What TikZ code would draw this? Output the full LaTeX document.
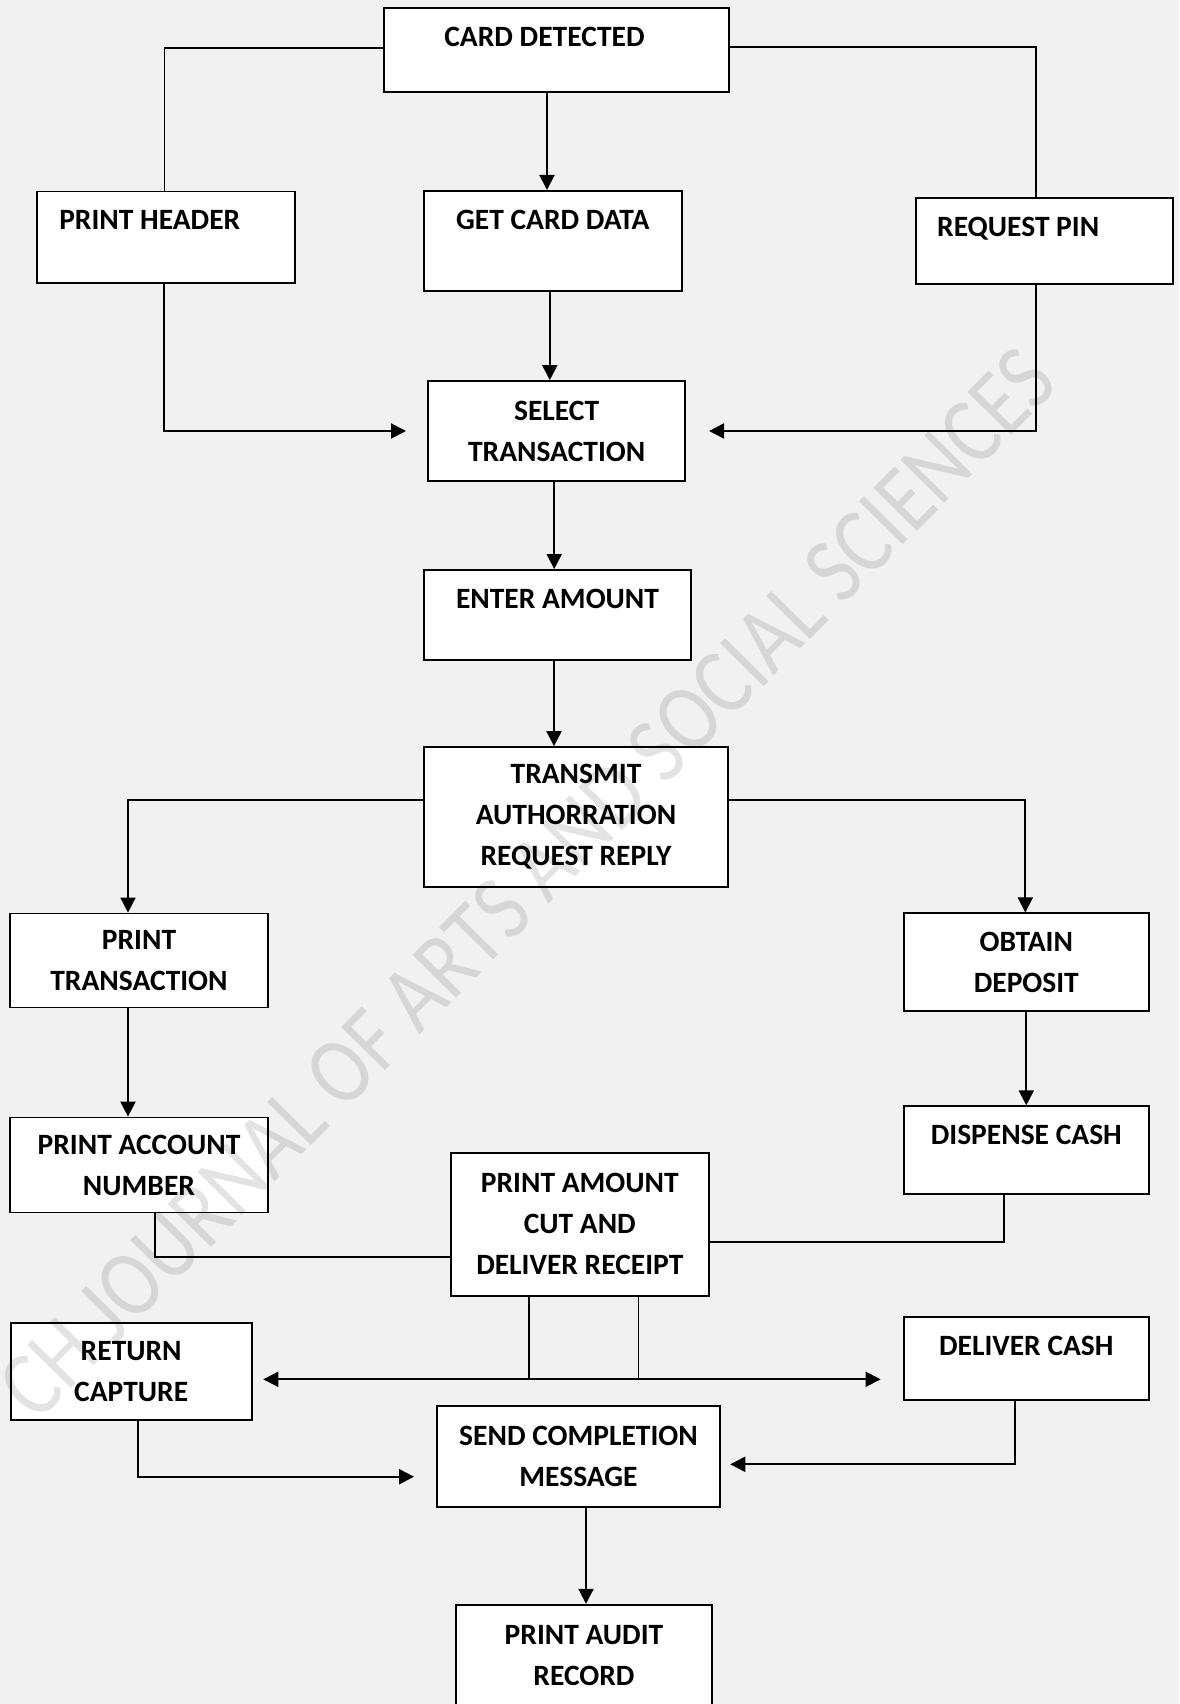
\documentclass[tikz,border=0pt]{standalone}
\usepackage{fontspec}
\setmainfont{Carlito}
\newfontfamily\wmfont{Carlito}
\usetikzlibrary{arrows.meta}
\definecolor{bgc}{HTML}{F1F1F1}
\tikzset{
 box/.style={draw=black, line width=1.8pt, fill=white, inner sep=0pt, font=\fontsize{29.5}{41}\selectfont\bfseries},
 topbox/.style={box, anchor=north},
 midbox/.style={box, align=center},
 ln/.style={line width=1.5pt},
 arr/.style={line width=2pt, -{Triangle[length=15pt,width=15pt]}},
 dbl/.style={line width=2pt, {Triangle[length=15pt,width=15pt]}-{Triangle[length=15pt,width=15pt]}},
}
\begin{document}
\begin{tikzpicture}[x=1pt,y=-1pt]
\useasboundingbox (0,0) rectangle (1179,1704);
\clip (0,0) rectangle (1179,1704);
\fill[bgc] (0,0) rectangle (1179,1704);

\node[topbox, minimum width=345pt, text height=38.4pt, text depth=45.6pt] (card) at (556.5,7.3) {CARD DETECTED\hspace*{24pt}};
\node[topbox, minimum width=258pt, text height=38.3pt, text depth=53pt] (header) at (166.3,190.7) {\makebox[214pt][l]{PRINT HEADER}};
\node[topbox, minimum width=257.7pt, text height=39pt, text depth=61pt] (getcard) at (552.8,190) {GET CARD DATA};
\node[topbox, minimum width=257.6pt, text height=39pt, text depth=46.7pt] (reqpin) at (1044.5,197) {\makebox[214.6pt][l]{REQUEST PIN}};
\node[midbox, minimum width=257pt, minimum height=100pt] (select) at (556.7,431) {SELECT\\TRANSACTION};
\node[topbox, minimum width=267pt, text height=38.3pt, text depth=51.7pt] (enter) at (557.5,569) {ENTER AMOUNT};
\node[midbox, minimum width=304pt, minimum height=140pt] (transmit) at (576,817) {TRANSMIT\\AUTHORRATION\\REQUEST REPLY};
\node[midbox, minimum width=258pt, minimum height=94pt] (printtrans) at (139,960.5) {PRINT\\TRANSACTION};
\node[midbox, minimum width=245.3pt, minimum height=97.4pt] (obtain) at (1026.3,962) {OBTAIN\\DEPOSIT};
\node[midbox, minimum width=258pt, minimum height=95pt] (printacct) at (139,1165) {PRINT ACCOUNT\\NUMBER};
\node[topbox, minimum width=245.3pt, text height=38.7pt, text depth=49.3pt] (dispense) at (1026.3,1105.3) {DISPENSE CASH};
\node[midbox, minimum width=257.7pt, minimum height=143pt] (printamt) at (579.8,1224.2) {PRINT AMOUNT\\CUT AND\\DELIVER RECEIPT};
\node[midbox, minimum width=241pt, minimum height=96.7pt] (returncap) at (131.2,1371.7) {RETURN\\CAPTURE};
\node[topbox, minimum width=245.3pt, text height=39pt, text depth=44pt] (delivercash) at (1026.3,1316) {DELIVER CASH};
\node[midbox, minimum width=282.5pt, minimum height=101pt] (sendcomp) at (578.5,1456.5) {SEND COMPLETION\\MESSAGE};
\node[midbox, minimum width=256.6pt, minimum height=101pt] (printaudit) at (584,1655.2) {PRINT AUDIT\\RECORD};

\draw[ln] ([yshift=2.3pt]card.west) -| ([xshift=-2pt]header.north);
\draw[ln] ([yshift=3.3pt]card.east) -| ([xshift=-8.5pt]reqpin.north);
\draw[arr] ([xshift=-9.5pt]card.south) -- ([xshift=-9.5pt]card.south |- getcard.north);
\draw[arr] ([xshift=-3pt]getcard.south) -- ([xshift=-3pt]getcard.south |- select.north);
\draw[arr, shorten >=21.3pt] ([xshift=-2pt]header.south) |- (select.west);
\draw[arr, shorten >=23pt] ([xshift=-8.5pt]reqpin.south) |- (select.east);
\draw[arr] ([xshift=-2.5pt]select.south) -- ([xshift=-2.5pt]select.south |- enter.north);
\draw[arr] ([xshift=-3.5pt]enter.south) -- ([xshift=-3.5pt]enter.south |- transmit.north);
\draw[arr] ([yshift=17.3pt]transmit.west) -| ([xshift=-11pt]printtrans.north);
\draw[arr] ([yshift=17.3pt]transmit.east) -| ([xshift=-1pt]obtain.north);
\draw[arr] ([xshift=-11pt]printtrans.south) -- ([xshift=-11pt]printtrans.south |- printacct.north);
\draw[arr] (obtain.south) -- (dispense.north);
\draw[ln] ([xshift=16pt]printacct.south) |- ([yshift=-33pt]printamt.west);
\draw[ln] ([xshift=-22.3pt]dispense.south) |- ([yshift=-18pt]printamt.east);
\coordinate (busL) at (263.3,1379.3);
\coordinate (busR) at (880.6,1379.3);
\draw[dbl] (busL) -- (busR);
\draw[ln] ([xshift=-50.8pt]printamt.south) -- ([xshift=-50.8pt]printamt.south |- busL);
\draw[ln] ([xshift=58.9pt]printamt.south) -- ([xshift=58.9pt]printamt.south |- busL);
\draw[arr, shorten >=22.3pt] ([xshift=7pt]returncap.south) |- ([yshift=-20.2pt]sendcomp.west);
\draw[arr, shorten >=9.6pt] ([xshift=-11pt]delivercash.south) |- ([yshift=-7.8pt]sendcomp.east);
\draw[arr] ([xshift=7.5pt]sendcomp.south) -- ([xshift=7.5pt]sendcomp.south |- printaudit.north);

\node[rotate=45.4, opacity=0.11, inner sep=0pt] (wm) at (527,883) {\resizebox{1457pt}{62pt}{\wmfont CH JOURNAL OF ARTS AND SOCIAL SCIENCES}};
\end{tikzpicture}
\end{document}
